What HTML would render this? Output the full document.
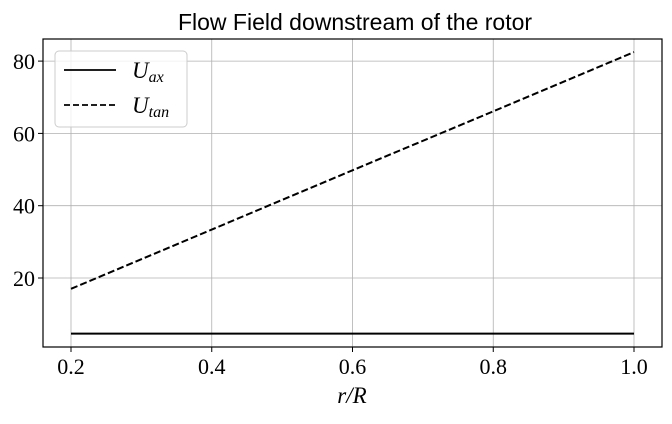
<!DOCTYPE html>
<html><head><meta charset="utf-8"><style>
body{margin:0;background:#fff}
svg text{font-family:"Liberation Serif",serif;fill:#000}
</style></head><body>
<svg width="672" height="419" xmlns="http://www.w3.org/2000/svg">
<g id="grid"></g>
<g id="series"></g>
<rect x="43" y="39" width="619" height="308" fill="none" stroke="#000" stroke-width="1.2"/>
<g id="ticks"></g>
<text x="355" y="30" text-anchor="middle" style="font-family:'Liberation Sans',sans-serif;font-size:23px">Flow Field downstream of the rotor</text>
<text x="352" y="403" text-anchor="middle" font-size="23" font-style="italic">r/R</text>
<g>
<rect x="55" y="51" width="132" height="76" rx="4" fill="#fff" fill-opacity="0.8" stroke="#ccc"/>
<line x1="64" y1="70" x2="116" y2="70" stroke="#000" stroke-width="1.8"/>
<text x="132" y="78" font-size="23" font-style="italic">U<tspan font-size="16" dy="4">ax</tspan></text>
<line x1="64" y1="105" x2="116" y2="105" stroke="#000" stroke-width="1.8" stroke-dasharray="6,3"/>
<text x="132" y="113" font-size="23" font-style="italic">U<tspan font-size="16" dy="4">tan</tspan></text>
</g>
</svg>
<script>
const rValues=[0.2,0.4,0.6,0.8,1.0];
const uAx=[4.6,4.6,4.6,4.6,4.6];
const uTan=[17,33.4,49.8,66.1,82.5];
const xTicks=[0.2,0.4,0.6,0.8,1.0];
const yTicks=[20,40,60,80];
const X=v=>71+(v-0.2)/0.8*563;
const Y=v=>278-(v-20)*72.3/20;
const NS="http://www.w3.org/2000/svg";
function mk(t,a,p){const e=document.createElementNS(NS,t);for(const k in a)e.setAttribute(k,a[k]);p.appendChild(e);return e;}
const grid=document.getElementById('grid'),ticks=document.getElementById('ticks'),ser=document.getElementById('series');
xTicks.forEach(v=>{
 const g=mk('line',{x1:X(v),x2:X(v),y1:39,y2:347,stroke:'#b0b0b0','stroke-width':0.8},grid);
 
 
 const t=mk('line',{x1:X(v),x2:X(v),y1:347,y2:352,stroke:'#000'},ticks);
 
 
 const l=mk('text',{x:X(v),y:374,'text-anchor':'middle','font-size':22},ticks);l.textContent=v.toFixed(1);
 
 
});
yTicks.forEach(v=>{
 const g=mk('line',{x1:43,x2:662,y1:Y(v),y2:Y(v),stroke:'#b0b0b0','stroke-width':0.8},grid);
 
 
 const t=mk('line',{x1:38,x2:43,y1:Y(v),y2:Y(v),stroke:'#000'},ticks);
 
 
 const l=mk('text',{x:35,y:Y(v)+8,'text-anchor':'end','font-size':22},ticks);l.textContent=v;
 
 
});
const pa=mk('polyline',{points:rValues.map((r,i)=>X(r)+','+Y(uAx[i])).join(' '),fill:'none',stroke:'#000','stroke-width':2},ser);


const pt=mk('polyline',{points:rValues.map((r,i)=>X(r)+','+Y(uTan[i])).join(' '),fill:'none',stroke:'#000','stroke-width':2,'stroke-dasharray':'7,3'},ser);


</script>
</body></html>
